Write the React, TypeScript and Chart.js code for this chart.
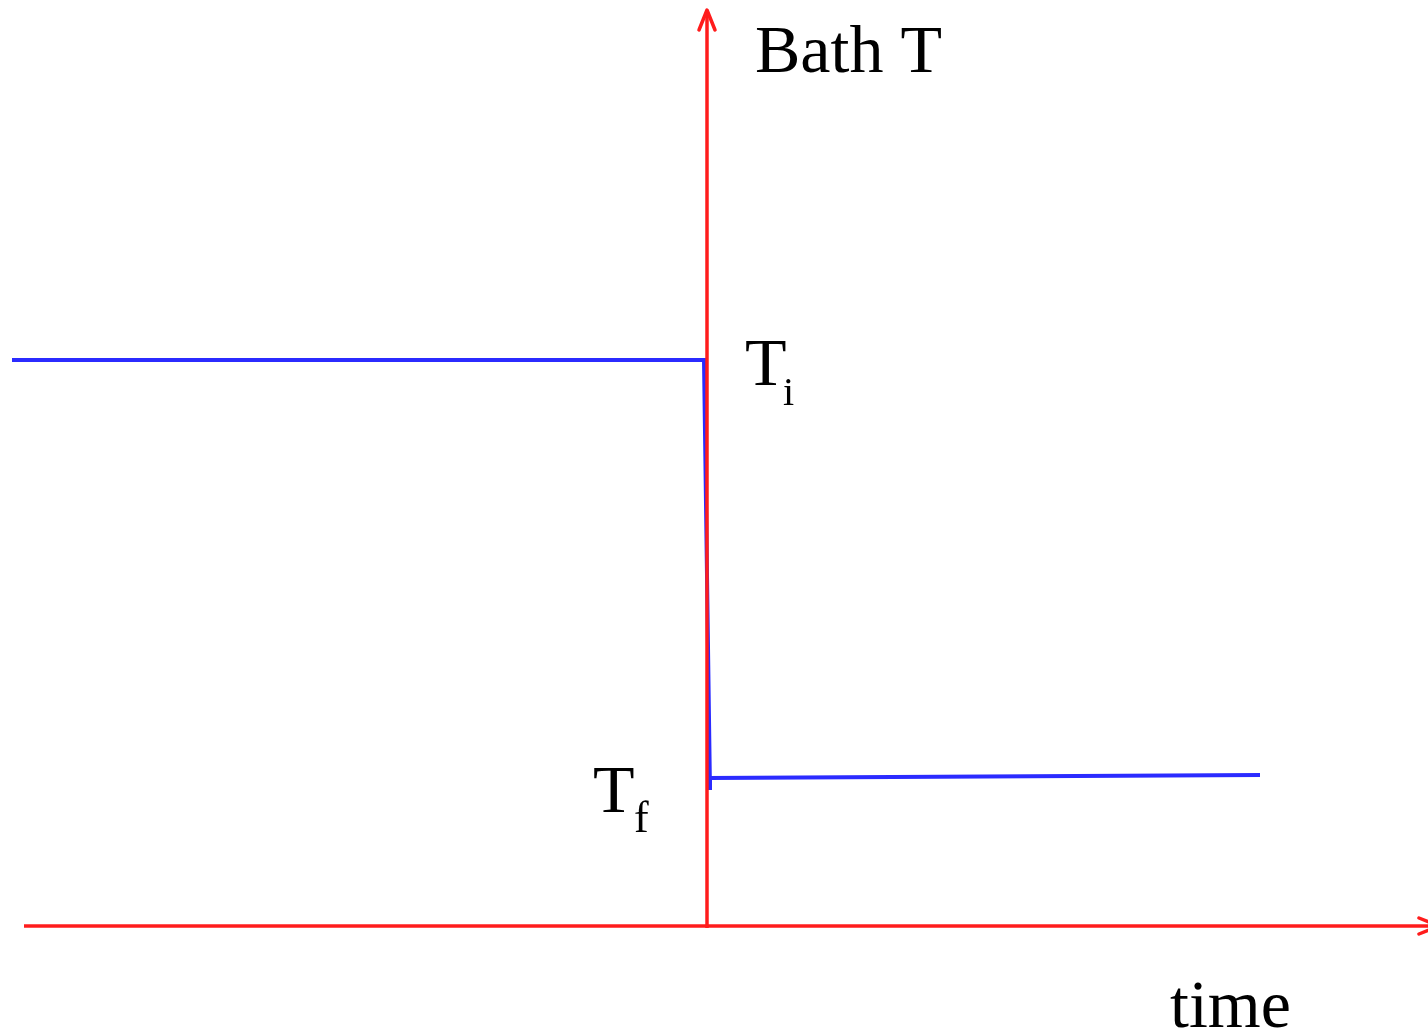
import React, { useEffect, useRef } from "react";
import { Chart, registerables } from "chart.js";

Chart.register(...registerables);

// time (arbitrary units, step at t = 0) and bath temperature (arbitrary units)
const bathTime = [-6.95, -0.03, 0.03, 0.03, 5.53];
const bathTemp = [5.66, 5.66, 1.36, 1.48, 1.51];
const T_INITIAL = 5.66;
const T_FINAL = 1.48;

// axes drawn as lines
const timeAxisX = [-6.83, 7.3];
const timeAxisY = [0, 0];
const tempAxisX = [0, 0];
const tempAxisY = [-0.02, 9.14];

const X_MIN = -7.07;
const X_MAX = 7.21;
const Y_MIN = -1.1;
const Y_MAX = 9.26;

const RED = "#ff1c1c";
const BLUE = "#2b2bff";
const FONT = "'Liberation Serif', 'Times New Roman', serif";

const labelsPlugin = {
  id: "diagramLabels",
  afterDatasetsDraw(chart: any) {
    const ctx = chart.ctx;
    const xs = chart.scales.x;
    const ys = chart.scales.y;
    const x0 = xs.getPixelForValue(0);
    const yTop = ys.getPixelForValue(tempAxisY[1]);
    const yBase = ys.getPixelForValue(0);
    const xRight = xs.getPixelForValue(timeAxisX[1]);
    ctx.save();
    // arrow heads
    ctx.strokeStyle = RED;
    ctx.fillStyle = RED;
    ctx.lineWidth = 3.5;
    ctx.lineCap = "round";
    ctx.lineJoin = "round";
    ctx.beginPath();
    ctx.moveTo(x0 - 8, yTop + 18);
    ctx.lineTo(x0, yTop - 2);
    ctx.lineTo(x0 + 8, yTop + 18);
    ctx.stroke();
    ctx.beginPath();
    ctx.moveTo(xRight - 18, yBase - 8);
    ctx.lineTo(xRight + 2, yBase);
    ctx.lineTo(xRight - 18, yBase + 8);
    ctx.stroke();

    // text
    ctx.fillStyle = "#000";
    ctx.textBaseline = "alphabetic";
    ctx.textAlign = "left";
    ctx.font = `68px ${FONT}`;
    ctx.fillText("Bath T", x0 + 48, 72);
    const yi = ys.getPixelForValue(T_INITIAL);
    ctx.fillText("T", x0 + 38, yi + 25);
    ctx.font = `40px ${FONT}`;
    ctx.fillText("i", x0 + 76, yi + 45);
    const yf = ys.getPixelForValue(T_FINAL);
    ctx.font = `68px ${FONT}`;
    ctx.fillText("T", x0 - 114, yf + 34);
    ctx.font = `44px ${FONT}`;
    ctx.fillText("f", x0 - 73, yf + 54);
    ctx.font = `68px ${FONT}`;
    ctx.fillText("time", x0 + 463, yBase + 101);
    ctx.restore();
  },
};

export default function App() {
  const ref = useRef<HTMLCanvasElement | null>(null);
  useEffect(() => {
    document.body.style.margin = "0";
    document.body.style.background = "#fff";
    const canvas = ref.current;
    if (!canvas) return;
    const toPts = (xs: number[], ys: number[]) => xs.map((x, i) => ({ x, y: ys[i] }));
    const chart = new Chart(canvas, {
      type: "scatter",
      data: {
        datasets: [
          {
            label: "time axis",
            data: toPts(timeAxisX, timeAxisY),
            showLine: true,
            borderColor: RED,
            borderWidth: 3.5,
            pointRadius: 0,
            clip: false as any,
          },
          {
            label: "Bath T axis",
            data: toPts(tempAxisX, tempAxisY),
            showLine: true,
            borderColor: RED,
            borderWidth: 3.5,
            pointRadius: 0,
            clip: false as any,
          },
          {
            label: "Bath T",
            data: toPts(bathTime, bathTemp),
            showLine: true,
            borderColor: BLUE,
            borderWidth: 4,
            pointRadius: 0,
            tension: 0,
            clip: false as any,
          },
        ],
      },
      options: {
        responsive: false,
        animation: false,
        layout: { padding: 0 },
        plugins: { legend: { display: false }, tooltip: { enabled: false }, title: { display: false } },
        scales: {
          x: { type: "linear", min: X_MIN, max: X_MAX, display: false },
          y: { type: "linear", min: Y_MIN, max: Y_MAX, display: false },
        },
      },
      plugins: [labelsPlugin],
    });
    return () => chart.destroy();
  }, []);
  return <canvas ref={ref} width={1428} height={1036} style={{ display: "block" }} />;
}
